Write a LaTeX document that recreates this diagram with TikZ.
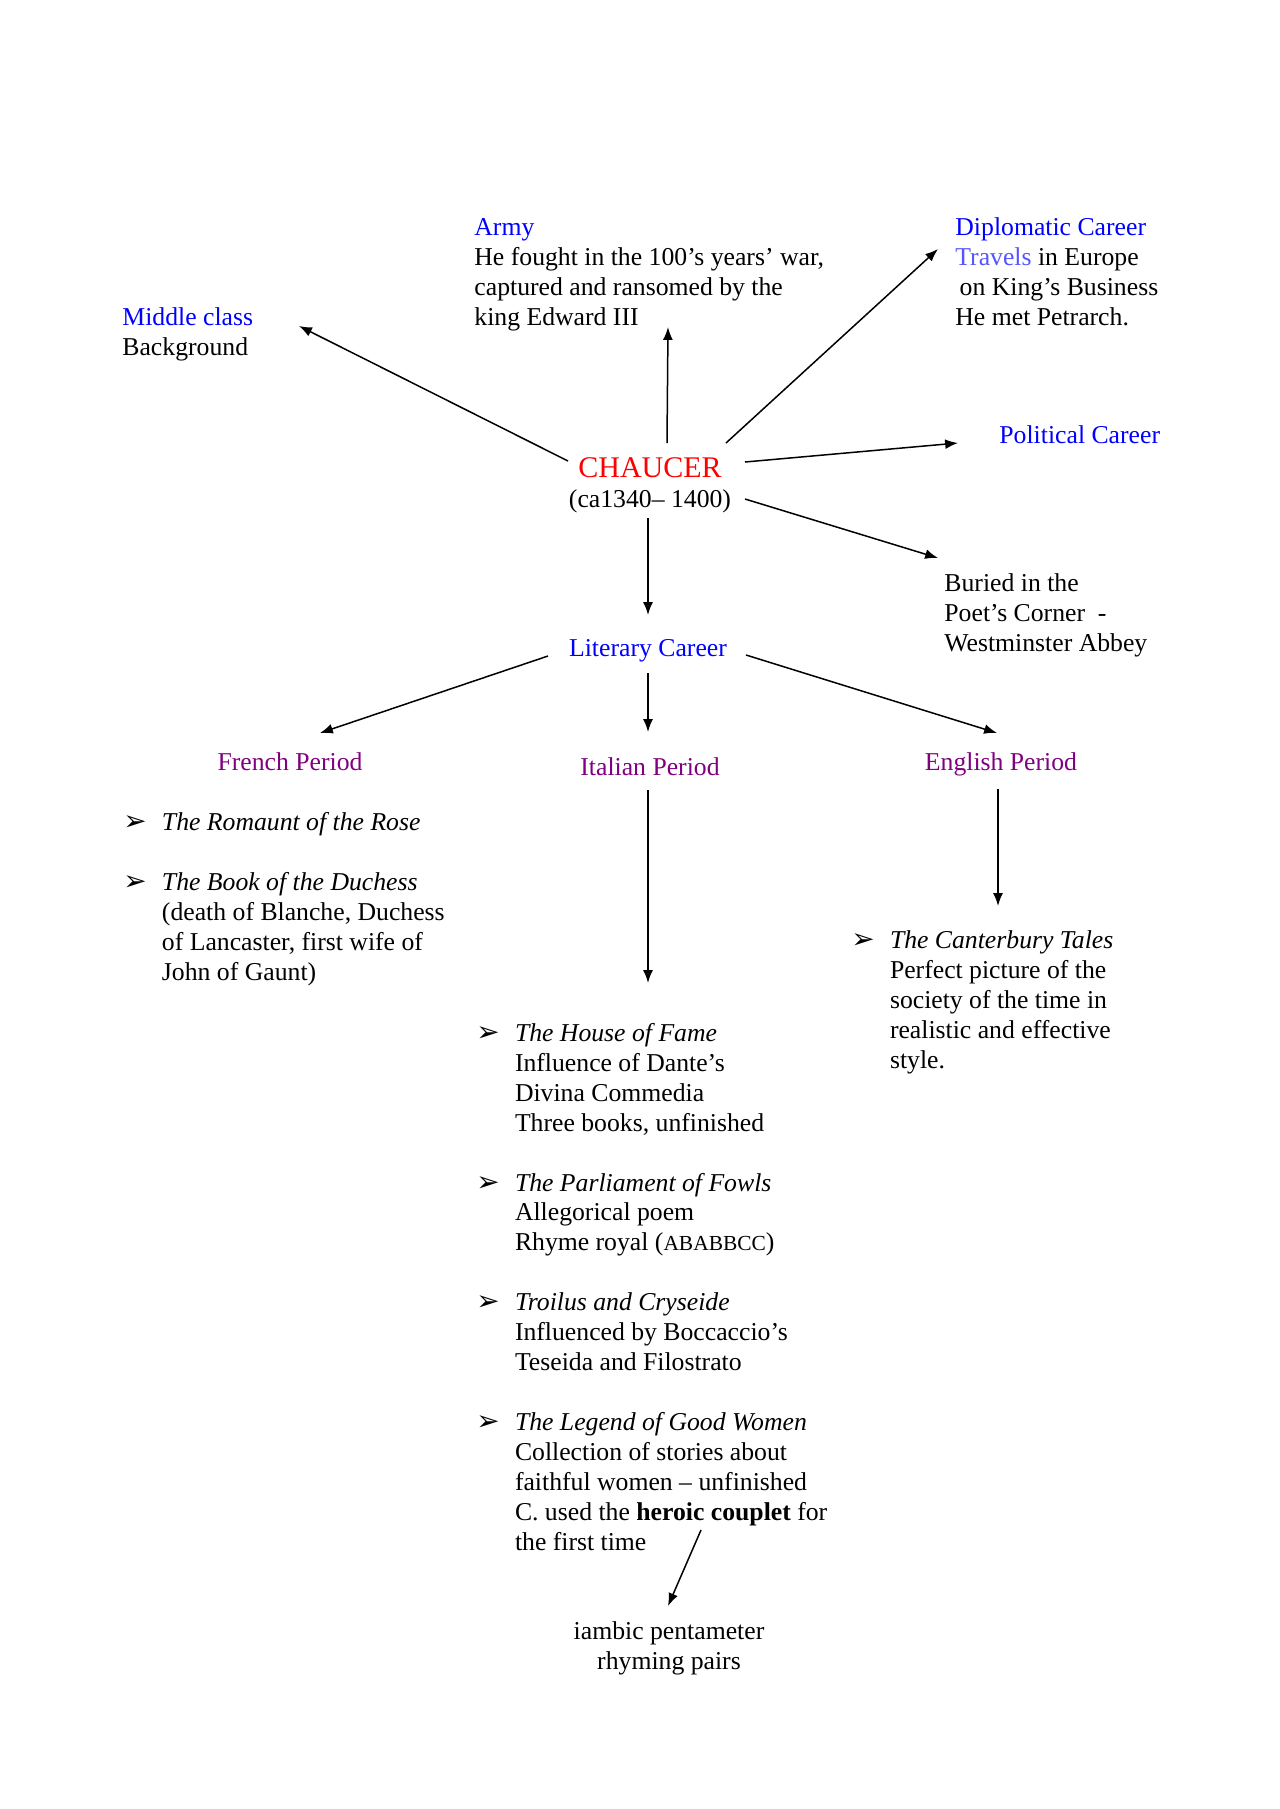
\documentclass[tikz,border=0pt]{standalone}
\usepackage{fontspec}
\setmainfont{Liberation Serif}
\newfontfamily\dejavu{DejaVu Sans}
\usetikzlibrary{positioning,arrows.meta}
\definecolor{myblue}{RGB}{0,0,255}
\definecolor{mylightblue}{RGB}{85,85,255}
\definecolor{mypurple}{RGB}{128,0,128}
\definecolor{myred}{RGB}{255,0,0}
\newcommand{\bul}{{\dejavu\fontsize{13}{14}\selectfont ➢}}

\begin{document}
\begin{tikzpicture}[
		x=0.01640625cm,y=-0.01640625cm,
		mytext/.style={inner sep=0pt,anchor=base west,align=left,font=\fontsize{12}{14}\selectfont},
		mycenter/.style={mytext,anchor=base,align=center},
		myhead/.style={mycenter,text=myblue},
		myperiod/.style={mycenter,text=mypurple},
		myarrow/.style={-{Latex[length=6pt,width=4.6pt]},line width=0.7pt}
		]
		\useasboundingbox (0,0) rectangle (1280,1809);
		% multi-line nodes sit on the baseline of their last line
		\node[mycenter] (chaucer) at (650,507) {\textcolor{myred}{\fontsize{14}{14}\selectfont CHAUCER}\\(ca1340– 1400)};
		\node[mytext] (middle) at (122,355) {\textcolor{myblue}{Middle class}\\Background};
		\node[mytext] (army) at (474,325) {\textcolor{myblue}{Army}\\He fought in the 100’s years’ war,\\captured and ransomed by the\\king Edward III};
		\node[mytext] (diplo) at (955,325) {\textcolor{myblue}{Diplomatic Career}\\\textcolor{mylightblue}{Travels} in Europe\\\hspace{2pt}on King’s Business\\He met Petrarch.};
		\node[mytext,text=myblue] (political) at (999,443) {Political Career};
		\node[mytext] (buried) at (944,651) {Buried in the\\Poet’s Corner\ \ -\\Westminster Abbey};
		\node[myhead] (literary) at (648,656) {Literary Career};
		\node[myperiod] (french) at (290,770) {French Period};
		\node[myperiod] (italian) at (650,775) {Italian Period};
		\node[myperiod] (english) at (1001,770) {English Period};
		\node[mytext] (frenchlist) at (123,830)
		{
			\begin{tabular}[t]{@{}p{18pt}@{}l@{}}
				\bul & \textit{The Romaunt of the Rose} \\
				& \\
				\bul & \textit{The Book of the Duchess} \\
				& (death of Blanche, Duchess \\
				& of Lancaster, first wife of \\
				& John of Gaunt) \\
			\end{tabular}
		};
		\node[mytext] (italianlist) at (476,1041)
		{
			\begin{tabular}[t]{@{}p{18pt}@{}l@{}}
				\bul & \textit{The House of Fame} \\
				& Influence of Dante’s \\
				& Divina Commedia \\
				& Three books, unfinished \\
				& \\
				\bul & \textit{The Parliament of Fowls} \\
				& Allegorical poem \\
				& Rhyme royal ({\fontsize{10}{14}\selectfont ABABBCC}) \\
				& \\
				\bul & \textit{Troilus and Cryseide} \\
				& Influenced by Boccaccio’s \\
				& Teseida and Filostrato \\
				& \\
				\bul & \textit{The Legend of Good Women} \\
				& Collection of stories about \\
				& faithful women – unfinished \\
				& C. used the \textbf{heroic couplet} for \\
				& the first time \\
			\end{tabular}
		};
		\node[mytext] (englishlist) at (851,948)
		{
			\begin{tabular}[t]{@{}p{18pt}@{}l@{}}
				\bul & \textit{The Canterbury Tales} \\
				& Perfect picture of the \\
				& society of the time in \\
				& realistic and effective \\
				& style. \\
			\end{tabular}
		};
		\node[mycenter] (iambic) at (669,1669) {iambic pentameter\\rhyming pairs};
		% arrow ends
		\coordinate (chNW) at (568,461);
		\coordinate (middleE) at (299,326);
		\coordinate (chN) at (667,443);
		\coordinate (armyS) at (668,327);
		\coordinate (chNE) at (726,443);
		\coordinate (diploSW) at (938,249);
		\coordinate (chE) at (745,462);
		\coordinate (politicalW) at (958,443);
		\coordinate (chSE) at (745,499);
		\coordinate (buriedNW) at (938,558);
		\coordinate (chS) at (648,518);
		\coordinate (literaryN) at (648,615);
		\coordinate (literaryW) at (548,656);
		\coordinate (frenchN) at (320,733);
		\coordinate (literaryS) at (648,673);
		\coordinate (italianN) at (648,732);
		\coordinate (literaryE) at (746,655);
		\coordinate (englishN) at (997,733);
		\coordinate (italianS) at (648,790);
		\coordinate (italianlistN) at (648,983);
		\coordinate (englishS) at (998,789);
		\coordinate (englishlistN) at (998,906);
		\coordinate (legendS) at (701,1530);
		\coordinate (iambicN) at (668,1606);
		\path
		(chNW) edge[myarrow] (middleE)
		(chN) edge[myarrow] (armyS)
		(chNE) edge[myarrow] (diploSW)
		(chE) edge[myarrow] (politicalW)
		(chSE) edge[myarrow] (buriedNW)
		(chS) edge[myarrow] (literaryN)
		(literaryW) edge[myarrow] (frenchN)
		(literaryS) edge[myarrow] (italianN)
		(literaryE) edge[myarrow] (englishN)
		(italianS) edge[myarrow] (italianlistN)
		(englishS) edge[myarrow] (englishlistN)
		(legendS) edge[myarrow] (iambicN);
	\end{tikzpicture}
\end{document}
